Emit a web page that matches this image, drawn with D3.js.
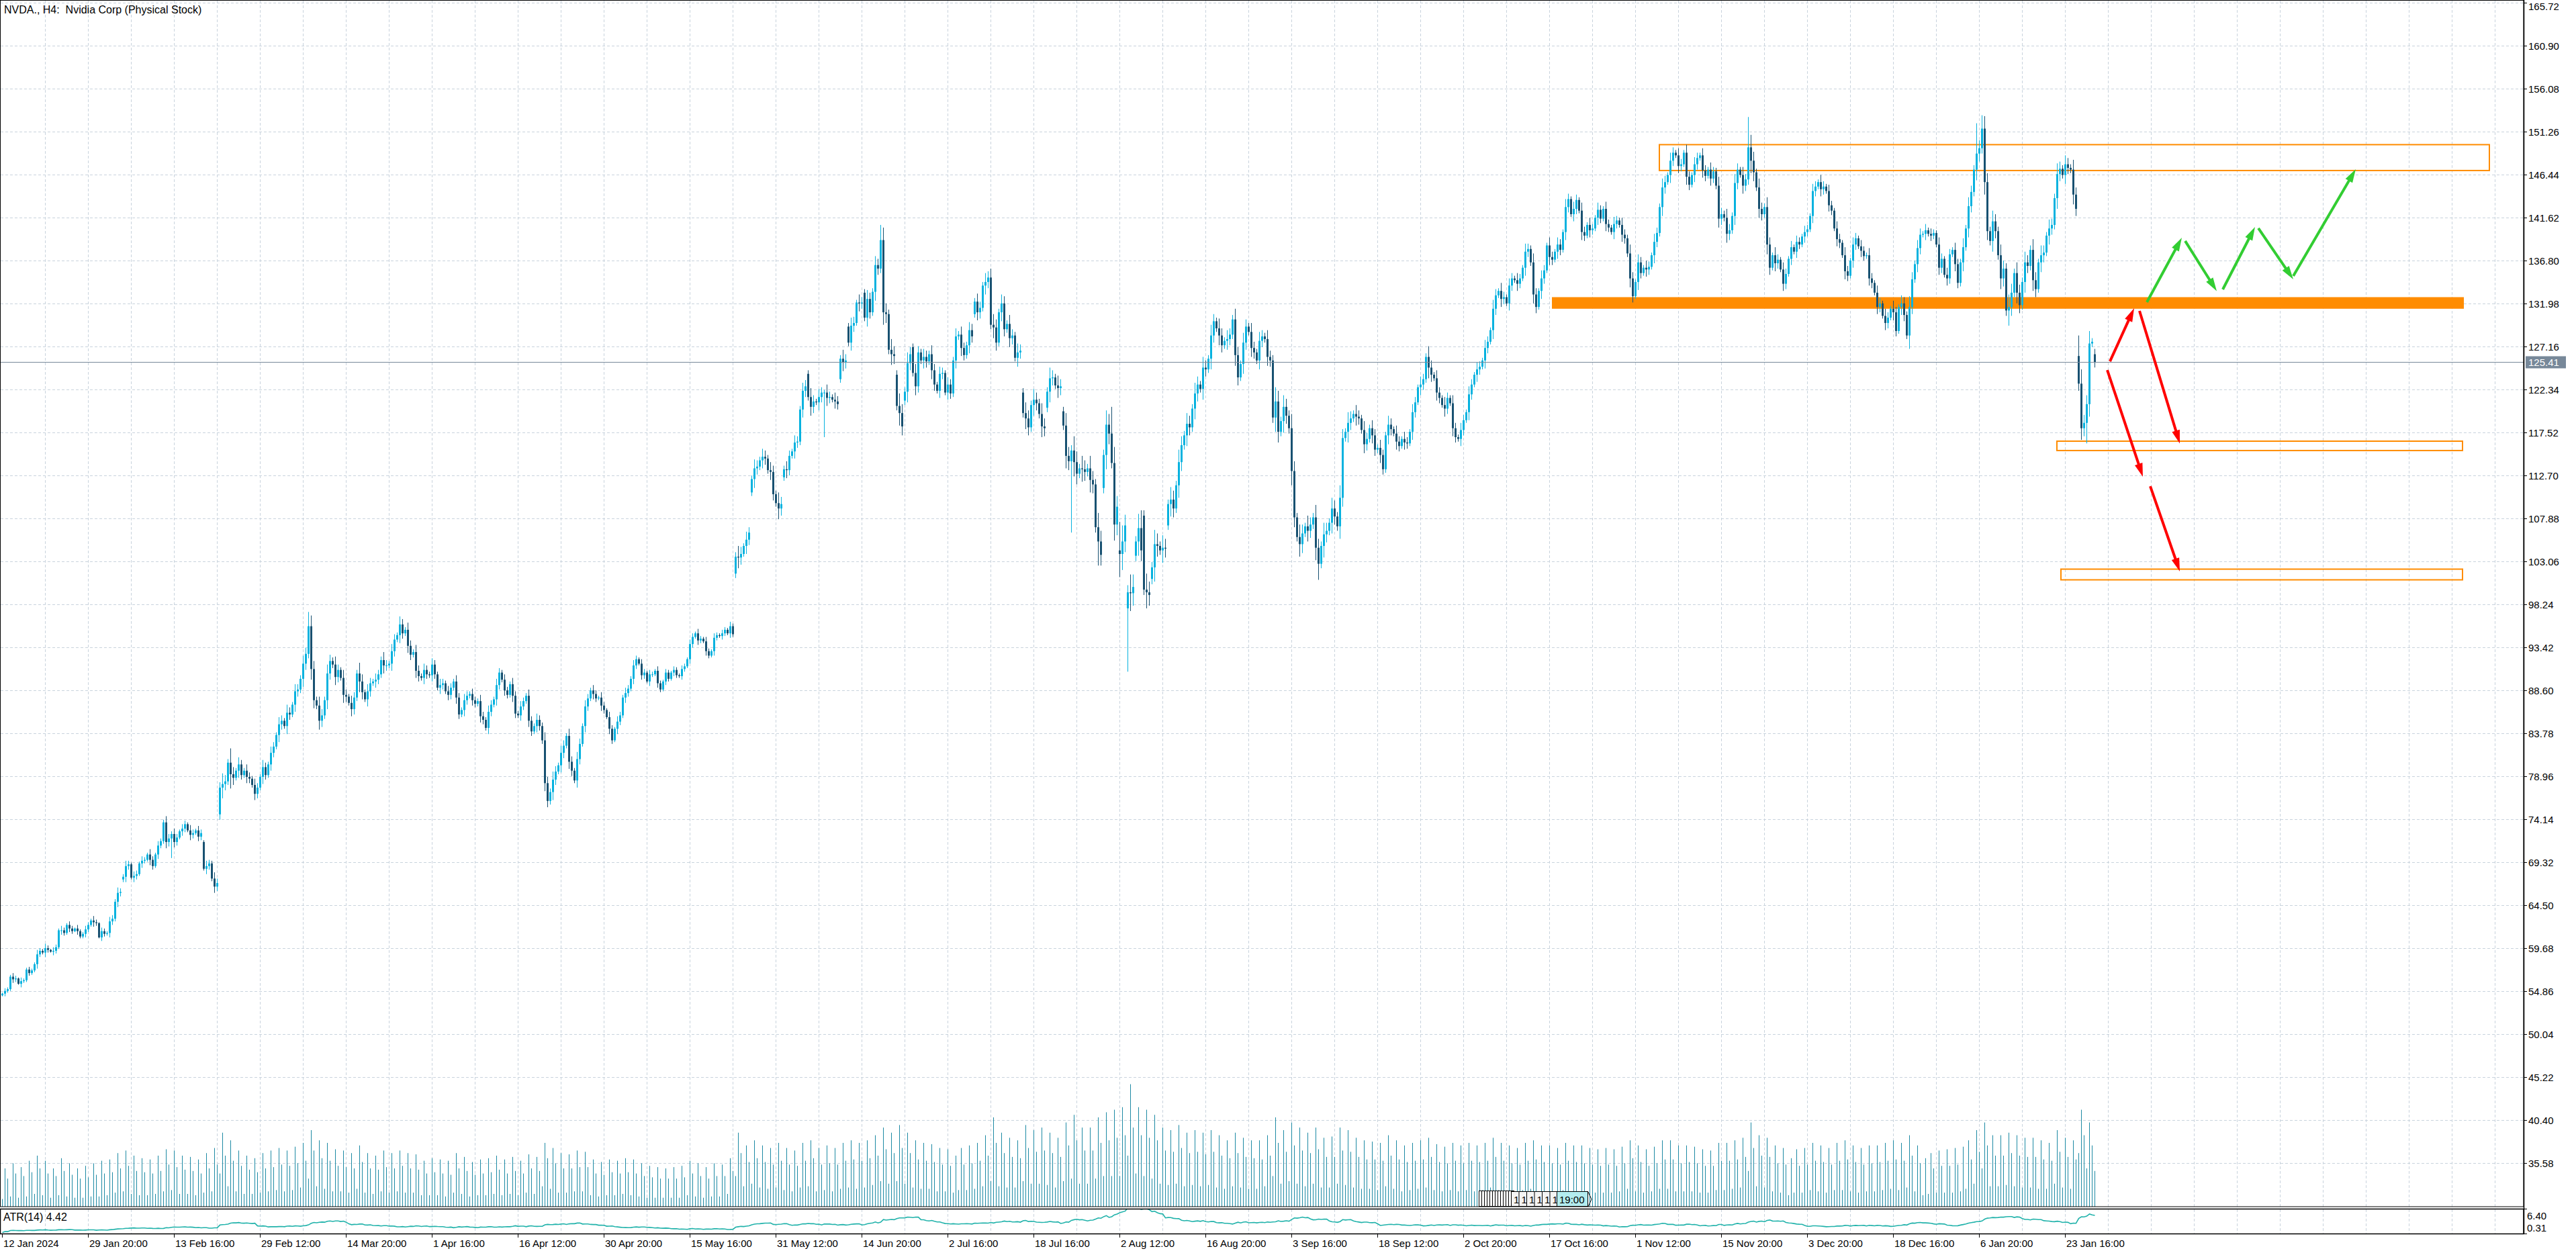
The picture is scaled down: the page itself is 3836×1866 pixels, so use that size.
<!DOCTYPE html>
<html>
  <head>
    <meta charset="utf-8">
    <style>
      body { margin: 0; background: #fff; }
      svg { display: block; }
      text { font-family: "Liberation Sans", Arial, sans-serif; fill: #000; }
    </style>
  </head>
  <body>
    <svg id="chart"></svg>
    <script src="https://d3js.org/d3.v7.min.js"></script>
    <script>
      var title = "NVDA., H4:  Nvidia Corp (Physical Stock)";
      var atrTitle = "ATR(14) 4.42";
      var lastPrice = 125.41;

      var priceTicks = [165.72, 160.90, 156.08, 151.26, 146.44, 141.62, 136.80, 131.98, 127.16, 122.34,
        117.52, 112.70, 107.88, 103.06, 98.24, 93.42, 88.60, 83.78, 78.96, 74.14, 69.32, 64.50,
        59.68, 54.86, 50.04, 45.22, 40.40, 35.58];
      var atrTicks = [6.40, 0.31];

      var timeLabels = ["12 Jan 2024", "29 Jan 20:00", "13 Feb 16:00", "29 Feb 12:00", "14 Mar 20:00",
        "1 Apr 16:00", "16 Apr 12:00", "30 Apr 20:00", "15 May 16:00", "31 May 12:00", "14 Jun 20:00",
        "2 Jul 16:00", "18 Jul 16:00", "2 Aug 12:00", "16 Aug 20:00", "3 Sep 16:00", "18 Sep 12:00",
        "2 Oct 20:00", "17 Oct 16:00", "1 Nov 12:00", "15 Nov 20:00", "3 Dec 20:00", "18 Dec 16:00",
        "6 Jan 20:00", "23 Jan 16:00"];

      // H4 closes, one line per week
      var closes = [
        54.6,54.9,55.1,
        56.5,56.2,56.3,55.7,56.0,56.1,57.3,56.9,57.2,57.9,59.0,59.4,
        59.2,59.7,59.5,59.3,59.4,59.8,61.7,61.7,61.4,62.3,61.9,61.6,61.9,61.6,61.0,
        61.3,61.8,62.3,62.8,62.6,62.5,60.9,61.6,61.3,61.4,62.7,63.0,64.9,65.9,66.0,
        67.7,68.9,69.1,67.6,67.8,68.0,69.2,69.5,69.6,70.2,69.6,68.9,70.2,71.2,71.7,
        73.8,71.6,72.0,72.5,71.6,72.1,72.8,73.1,73.6,72.9,72.4,72.6,72.9,72.2,72.6,
        68.6,68.9,69.2,67.5,66.6,67.0,77.7,78.1,78.4,80.5,79.2,78.8,
        79.6,80.3,79.1,79.6,78.9,78.7,78.0,77.0,77.7,78.9,80.0,79.1,80.3,81.6,82.3,
        83.6,84.8,85.2,84.6,86.1,85.9,87.0,88.5,88.7,89.9,91.6,92.7,95.8,91.0,87.5,
        86.9,85.2,85.8,87.5,90.5,91.9,91.5,90.1,90.9,90.0,88.1,87.9,87.2,86.5,87.8,
        90.5,89.6,88.4,87.6,88.5,89.4,89.6,89.8,90.4,92.0,91.4,91.4,91.6,93.0,94.3,
        94.8,96.0,95.0,95.4,93.6,92.6,92.9,90.8,90.2,90.0,90.9,90.4,
        90.3,91.5,90.4,88.9,89.2,89.4,88.5,88.1,88.9,89.6,87.8,85.9,86.4,87.5,88.0,
        88.2,87.5,87.1,87.4,85.7,85.3,84.4,86.2,87.0,87.6,89.2,90.6,89.8,88.6,88.1,
        89.3,88.0,86.0,85.8,86.8,87.4,88.0,85.2,84.0,84.6,85.3,84.6,83.0,78.2,76.2,
        77.2,78.6,79.5,80.2,81.6,82.4,83.5,80.6,79.6,78.5,80.9,82.6,84.6,86.8,87.7,
        88.6,88.2,87.7,87.8,86.9,86.4,85.6,84.3,83.0,84.3,85.1,85.8,87.8,88.3,88.8,
        89.9,91.4,92.1,91.6,90.3,90.6,89.6,90.4,90.4,90.8,89.4,88.7,89.6,90.6,89.9,
        90.6,90.9,90.3,90.2,91.0,91.3,92.1,93.8,94.6,95.0,94.2,94.4,94.1,93.0,92.5,
        93.0,94.5,94.8,94.7,95.0,95.4,95.0,95.8,94.9,103.6,103.5,103.9,104.8,105.5,106.3,
        112.3,113.5,113.7,114.4,114.8,114.6,113.3,113.1,110.6,109.6,109.0,109.5,
        113.4,113.3,114.9,115.4,116.4,116.5,120.1,122.2,122.7,121.5,120.4,121.0,120.9,121.5,122.0,
        122.0,121.4,121.5,121.2,121.0,120.7,125.8,125.4,125.6,127.6,129.5,129.8,132.1,132.0,132.1,
        130.4,132.5,131.0,133.3,136.3,135.9,139.1,131.0,130.8,126.8,126.3,126.1,
        120.5,119.7,118.2,122.1,125.3,126.3,124.2,122.7,126.5,125.6,126.0,125.5,126.3,124.5,122.9,
        122.2,124.1,124.2,122.0,122.9,121.9,125.6,128.3,128.5,127.0,126.2,
        127.3,129.0,128.3,132.2,131.0,131.5,134.0,134.4,134.9,129.6,129.3,127.6,131.0,132.0,129.1,
        129.7,128.1,128.4,125.9,126.5,126.7,119.7,119.1,118.1,120.6,121.2,120.8,119.6,118.2,118.0,
        122.1,123.6,123.7,122.8,122.5,122.7,118.3,114.9,114.3,115.5,114.2,112.9,113.5,113.4,113.1,
        113.5,112.2,111.7,106.9,105.3,103.8,115.0,118.4,117.4,114.1,107.2,109.2,103.9,105.3,107.1,
        99.6,99.5,100.2,105.3,106.8,104.3,99.9,99.6,99.3,102.4,105.0,104.8,104.3,104.6,104.5,
        109.5,110.0,109.0,111.6,114.2,116.1,117.2,118.5,118.1,120.2,121.9,122.9,122.4,124.8,124.6,
        125.8,128.4,130.0,129.2,128.4,127.3,127.8,128.0,128.5,130.2,126.2,123.7,125.2,127.6,129.4,
        128.8,127.0,126.5,125.6,127.8,128.3,128.0,126.0,125.6,119.2,121.0,117.6,118.8,120.4,119.4,
        118.0,113.2,108.0,105.8,105.0,106.2,107.0,106.5,107.2,108.0,104.6,102.8,
        104.8,106.1,106.5,107.4,109.0,108.1,107.0,110.2,116.9,117.6,118.6,119.1,119.6,119.3,119.1,
        117.8,116.2,116.8,118.0,117.2,115.6,115.8,115.0,113.4,117.2,118.4,117.9,117.4,116.5,116.0,
        116.8,116.4,116.3,117.6,119.8,120.9,122.6,122.9,123.5,126.0,124.8,124.0,123.6,122.0,121.4,
        120.6,120.2,121.4,120.8,118.0,117.0,116.8,117.8,118.9,119.8,121.8,122.9,124.0,124.6,124.9,
        125.6,127.0,127.7,129.0,131.4,132.9,133.4,132.5,132.7,132.0,134.0,134.8,134.6,134.2,134.8,
        136.0,137.8,138.1,136.6,133.0,131.6,133.4,134.8,135.7,138.5,137.2,136.9,137.8,138.6,138.0,
        140.0,142.8,143.7,142.0,142.6,143.6,142.4,140.0,139.6,140.8,140.2,140.4,141.6,142.5,141.5,
        142.6,140.9,140.5,140.0,140.9,141.3,140.8,139.7,139.3,137.6,134.8,132.8,134.4,136.6,135.4,
        136.0,135.8,136.1,137.4,138.9,139.9,142.8,145.0,145.6,146.4,148.0,148.9,148.6,147.4,147.6,
        148.9,146.2,145.3,146.4,147.6,148.3,148.6,146.9,146.3,147.0,146.0,146.8,145.2,141.5,142.0,
        141.6,139.8,140.2,141.8,145.5,147.0,146.4,145.2,145.9,149.5,148.0,146.7,145.0,142.6,142.0,
        142.8,138.6,136.0,137.4,136.5,136.9,135.8,134.2,135.3,137.0,138.3,
        137.8,138.9,138.6,139.5,140.0,140.3,141.8,144.6,145.1,145.6,144.8,145.1,144.6,143.0,142.4,
        140.4,139.2,138.8,137.4,135.6,135.1,136.8,138.6,139.3,138.4,137.9,137.3,137.4,134.8,134.3,
        133.2,131.6,132.0,130.6,129.8,130.4,131.4,131.0,128.9,131.6,132.0,130.7,128.4,131.6,134.7,
        136.4,138.2,139.7,139.8,140.2,139.8,139.6,139.9,138.6,136.0,137.0,
        135.2,134.8,137.5,138.0,136.4,134.3,136.6,138.3,140.4,142.9,144.5,
        147.0,148.8,149.4,151.6,145.6,140.1,139.0,141.2,140.1,137.4,134.8,135.9,
        131.2,131.6,133.2,135.4,133.2,131.8,134.4,136.6,136.2,138.0,134.6,133.6,136.6,137.4,137.7,
        139.6,140.4,140.8,143.8,146.5,147.1,146.4,147.6,147.2,147.0,144.2,142.6,
        123.0,118.0,118.6,120.7,127.5,127.7,125.41
      ];

      // wick beyond the body, in tenths of a dollar
      var wicks = [
        1,3,2,
        2,4,3,1,4,2,2,3,2,2,5,3,
        2,5,3,1,4,3,2,5,3,2,4,3,1,4,2,
        2,4,3,2,5,3,1,4,3,2,5,4,3,6,4,
        3,6,4,2,5,4,2,5,3,2,6,4,2,5,3,
        3,7,5,3,6,4,2,5,4,2,6,4,2,5,4,
        2,6,4,3,7,5,6,12,7,4,16,8,
        3,8,5,3,7,5,3,7,5,3,8,5,3,7,5,
        3,8,6,3,9,6,3,8,6,4,9,7,5,12,9,
        4,10,7,4,10,7,4,9,6,3,9,6,3,8,6,
        4,12,8,3,8,6,3,7,5,4,9,6,3,8,6,
        3,9,6,3,8,6,3,8,6,3,7,5,
        3,7,5,3,7,5,3,6,5,3,7,5,3,7,5,
        3,6,4,3,7,5,3,7,5,3,7,5,3,6,4,
        3,7,5,3,6,4,3,7,5,3,7,5,4,9,7,
        4,9,6,3,8,6,3,8,6,3,8,6,3,7,5,
        3,6,4,2,6,4,2,6,4,2,6,4,3,6,4,
        3,6,4,2,5,4,2,5,3,2,5,3,2,4,3,
        2,4,3,2,4,3,2,5,4,2,5,3,2,5,3,
        2,5,3,2,4,3,2,5,3,5,12,8,3,9,6,
        4,10,7,4,9,7,4,9,7,4,12,8,
        4,9,6,3,8,6,4,9,7,4,10,7,3,9,6,
        3,9,6,3,8,6,4,10,7,4,9,7,3,9,6,
        4,10,7,4,10,7,5,14,10,5,12,9,
        5,14,10,5,12,8,4,10,7,4,9,7,4,10,7,
        3,8,6,3,8,6,4,9,4,9,6,
        4,9,7,4,9,7,4,10,7,5,12,9,4,10,8,
        4,10,7,4,10,7,5,12,9,5,12,8,5,12,9,
        5,12,8,4,11,8,5,14,10,6,16,12,5,14,10,
        5,14,10,6,16,12,6,16,12,6,18,12,6,18,12,
        8,20,14,6,16,12,6,18,12,6,16,12,5,14,10,
        5,14,10,5,14,10,5,12,9,5,12,9,4,12,8,
        4,12,8,4,11,8,4,10,7,5,12,9,4,11,8,
        4,10,7,4,10,7,4,10,7,6,16,12,5,13,9,
        6,16,11,5,14,10,4,12,8,5,14,10,
        5,13,9,5,12,9,5,14,10,4,12,8,4,10,7,
        4,10,7,4,9,7,4,9,6,4,10,7,3,9,6,
        3,8,6,3,9,6,3,9,6,4,12,8,3,9,6,
        3,9,6,3,9,6,3,8,6,3,9,6,3,8,6,
        3,9,6,3,10,7,3,9,6,3,8,6,3,8,5,
        3,9,6,4,10,7,3,9,6,3,9,6,3,8,6,
        3,9,6,3,8,6,3,9,6,3,8,5,3,8,5,
        3,8,5,3,8,5,3,8,6,4,10,7,3,9,6,
        3,8,6,3,9,6,4,10,7,3,9,6,3,8,6,
        3,9,6,3,8,6,3,8,6,3,8,5,4,10,7,
        4,10,7,4,10,7,3,9,6,6,14,10,4,10,7,
        4,11,8,3,9,6,3,8,6,3,7,
        3,7,5,3,7,5,3,8,6,3,8,6,3,7,5,
        3,8,6,3,9,6,3,8,6,3,7,5,3,8,6,
        3,8,6,3,8,6,3,9,6,3,9,7,4,12,8,
        4,9,7,3,7,3,6,4,3,8,6,
        3,8,6,3,8,6,4,10,4,10,7,
        5,12,9,6,14,10,5,12,8,5,12,9,
        6,14,10,5,12,9,5,12,8,5,12,9,4,11,8,
        4,10,7,5,12,8,4,10,7,4,11,8,
        8,16,9,10,14,4,6
      ];

      var volumes = [
        6,30,22,
        8,34,26,7,31,24,8,36,27,10,40,30,
        9,36,26,7,30,24,9,38,28,8,34,25,7,30,22,
        7,32,23,8,34,25,8,36,26,9,37,27,11,42,30,
        12,44,32,10,40,28,9,38,27,9,37,26,10,40,28,
        12,45,33,13,44,31,10,40,29,10,39,28,9,37,26,
        11,42,30,12,46,33,26,58,40,16,52,36,
        12,44,32,10,40,29,10,38,27,11,42,30,12,44,31,
        13,46,33,12,44,32,13,47,34,15,50,36,22,60,44,
        16,52,38,14,50,36,12,45,32,12,44,31,11,42,30,
        14,48,35,11,42,30,10,40,29,12,44,31,11,42,30,
        12,44,32,11,42,30,11,41,29,9,36,26,
        9,38,27,9,37,26,8,36,25,11,42,30,10,39,28,
        8,35,25,9,37,26,9,38,27,10,40,29,9,37,26,
        10,39,28,9,36,26,11,41,30,10,39,28,16,50,38,
        14,46,34,11,42,30,11,41,30,12,44,31,12,43,31,
        9,37,26,8,35,25,9,37,27,9,36,26,10,38,27,
        9,37,26,8,34,24,7,32,23,7,31,22,7,30,22,
        7,31,22,7,32,23,9,36,26,8,34,24,7,31,22,
        8,34,24,8,33,24,10,38,28,24,58,42,16,48,35,
        18,52,38,15,48,35,14,46,33,15,50,36,
        13,46,33,12,44,32,15,50,36,16,52,38,12,46,33,
        13,48,34,12,46,33,14,50,36,15,52,37,14,50,36,
        15,52,38,17,56,40,20,62,45,18,58,42,
        20,64,46,18,58,42,15,52,37,14,50,36,14,49,35,
        12,46,33,12,45,32,11,40,13,46,33,
        13,48,34,14,50,36,16,56,40,20,70,50,16,58,42,
        15,54,39,15,52,38,20,64,46,18,60,43,18,62,44,
        17,58,42,15,54,39,20,66,48,22,72,52,18,62,44,
        18,62,44,22,70,50,24,74,52,24,76,54,24,78,56,
        40,96,62,26,78,56,24,76,54,22,72,52,18,62,44,
        17,60,43,18,64,46,16,58,42,17,60,43,16,58,41,
        17,60,43,15,56,40,14,52,38,16,58,42,15,54,39,
        14,52,38,14,52,37,16,56,40,24,70,50,18,60,43,
        20,66,48,18,62,44,16,58,42,18,62,45,
        15,54,39,15,55,39,18,62,44,17,60,43,15,54,39,
        14,52,37,14,51,37,13,50,36,16,56,40,14,52,37,
        12,48,35,13,50,36,14,52,37,15,54,39,13,49,35,
        12,47,34,13,50,36,12,48,34,13,50,36,12,48,35,
        13,50,36,15,54,39,13,50,36,12,48,34,11,46,33,
        13,50,36,14,52,37,12,48,35,12,48,34,11,46,33,
        13,50,36,12,48,35,12,48,34,11,46,33,11,45,32,
        11,46,33,11,45,32,12,47,34,14,52,38,12,48,35,
        11,45,32,12,47,34,14,52,37,14,52,37,12,48,34,
        12,48,35,12,47,34,11,45,32,11,44,32,13,50,36,
        13,50,36,14,52,37,15,54,39,28,66,46,16,56,40,
        15,54,39,12,48,34,11,46,33,9,38,
        11,45,32,11,46,33,13,50,36,12,48,35,11,46,33,
        13,50,36,13,52,37,12,48,35,11,46,33,12,48,34,
        12,48,35,13,50,36,14,52,37,13,50,36,15,56,40,
        12,48,34,9,38,10,42,30,11,44,32,
        11,45,32,11,46,33,12,47,14,52,37,
        18,60,43,30,66,48,16,56,40,16,56,40,
        17,58,42,16,56,40,15,54,39,15,54,39,14,52,37,
        14,50,36,18,60,43,15,54,39,14,52,37,
        42,76,56,30,66,48,28
      ];

      // [bar, open] where the session opened away from the previous close
      var gapOpens = [[0, 54.4], [45, 67.4], [75, 71.6], [81, 74.7], [273, 101.7], [279, 110.8],
        [291, 112.5], [300, 124.1], [312, 123.5], [315, 129.4], [321, 133.2], [333, 124.0],
        [336, 121.1], [339, 127.1], [362, 130.8], [380, 122.0], [389, 120.3], [395, 119.9],
        [410, 111.3], [416, 104.3], [419, 97.8], [422, 103.7], [425, 108.2], [428, 101.1],
        [434, 107.1], [773, 126.1], [779, 126.3]];
      // [bar, high, low] spikes
      var extremes = [[63, null, 69.8], [114, 97.4, null], [306, null, 117.0], [327, 140.8, null],
        [368, 135.9, null], [398, null, 106.3], [408, null, 102.6], [413, 120.4, null],
        [416, 107.5, 101.3], [419, null, 90.7], [424, 108.8, null], [490, null, 101.0],
        [650, 152.9, null], [710, null, 126.9], [735, 152.2, null], [737, 153.1, null],
        [747, null, 129.5], [773, 128.4, null], [774, null, 116.7], [776, null, 116.3]];

      // drawn objects: [fromBar, toBar, lowPrice, highPrice]
      var boxes = [[617, 926, 146.9, 149.8], [765, 916, 115.5, 116.55], [766.5, 916, 101.0, 102.2]];
      var band = [577, 916.5, 131.4, 132.7];
      // [bar1, price1, bar2, price2]
      var redArrows = [[784.75, 125.5, 793.75, 131.46], [795.75, 131.16, 810.75, 116.28],
        [783.75, 124.53, 797, 112.56], [799.75, 111.5, 810.75, 101.94]];
      var greenArrows = [[798.5, 132.14, 811.5, 139.37], [812.75, 139.0, 824.5, 133.38],
        [826.75, 133.57, 838.75, 140.57], [840, 140.42, 853, 134.7], [853, 135.08, 876.25, 147.05]];
      var cursorBar = 550, cursorLabel = "19:00";

      var width = 3836, height = 1866,
        axisX = 3758, paneBottom = 1797, atrTop = 1800, atrBottom = 1837;

      var bullColor = "#06b2df", bearColor = "#185171", gridColor = "#c9d3dd";

      var svg = d3.select("#chart").attr("width", width).attr("height", height);
      svg.append("rect").attr("width", width).attr("height", height).attr("fill", "#fff");

      var x = d3.scaleLinear().domain([0, 938.75]).range([3, axisX]);
      var y = d3.scaleLinear().domain([35.58, 165.72]).range([1732.3, 4]);
      var yVol = d3.scaleLinear().domain([0, 100]).range([paneBottom, paneBottom - 190]);
      var yAtr = d3.scaleLinear().domain([0.31, 6.40]).range([atrBottom - 1, atrTop + 1]);

      // build bars
      var gapMap = new Map(gapOpens.map(function (g) { return [g[0], g[1]]; }));
      var extMap = new Map(extremes.map(function (e) { return [e[0], e]; }));
      var bars = closes.map(function (c, i) {
        var o = gapMap.has(i) ? gapMap.get(i) : closes[i - 1];
        var w = wicks[i] / 10;
        var h = Math.max(o, c) + w, l = Math.min(o, c) - w;
        var e = extMap.get(i);
        if (e) {
          if (e[1] != null) h = e[1];
          if (e[2] != null) l = e[2];
        }
        return { i: i, o: o, h: h, l: l, c: c, v: volumes[i] || 0 };
      });

      var tr = bars.map(function (b, i) {
        if (i === 0) return b.h - b.l;
        var pc = bars[i - 1].c;
        return Math.max(b.h - b.l, Math.abs(b.h - pc), Math.abs(b.l - pc));
      });
      var atr = tr.map(function (t, i) {
        return d3.mean(tr.slice(Math.max(0, i - 13), i + 1));
      });

      var defs = svg.append("defs");
      defs.append("clipPath").attr("id", "pane").append("rect")
        .attr("x", 1).attr("y", 1).attr("width", axisX - 1).attr("height", paneBottom - 1);
      defs.append("clipPath").attr("id", "atrpane").append("rect")
        .attr("x", 1).attr("y", atrTop + 1).attr("width", axisX - 1).attr("height", atrBottom - atrTop - 1);

      // grid
      var grid = svg.append("g").attr("stroke", gridColor).attr("stroke-dasharray", "4,3").attr("stroke-width", 1);
      grid.selectAll(".hg").data(priceTicks).enter().append("line")
        .attr("x1", 1).attr("x2", axisX)
        .attr("y1", function (d) { return Math.round(y(d)) + 0.5; })
        .attr("y2", function (d) { return Math.round(y(d)) + 0.5; });
      var vgrid = d3.range(16, 940, 16).filter(function (b) { return x(b) < axisX - 2; });
      grid.selectAll(".vg").data(vgrid).enter().append("line")
        .attr("x1", function (b) { return x(b) + 0.5; }).attr("x2", function (b) { return x(b) + 0.5; })
        .attr("y1", 1).attr("y2", paneBottom);
      grid.selectAll(".vga").data(vgrid).enter().append("line")
        .attr("x1", function (b) { return x(b) + 0.5; }).attr("x2", function (b) { return x(b) + 0.5; })
        .attr("y1", atrTop + 1).attr("y2", atrBottom);

      var main = svg.append("g").attr("clip-path", "url(#pane)");

      // zones behind the candles
      main.append("rect")
        .attr("x", x(band[0])).attr("width", x(band[1]) - x(band[0]))
        .attr("y", y(band[3])).attr("height", y(band[2]) - y(band[3]))
        .attr("fill", "#ff8c00");
      main.selectAll(".box").data(boxes).enter().append("rect")
        .attr("x", function (d) { return x(d[0]); })
        .attr("width", function (d) { return x(d[1]) - x(d[0]); })
        .attr("y", function (d) { return y(d[3]); })
        .attr("height", function (d) { return y(d[2]) - y(d[3]); })
        .attr("fill", "none").attr("stroke", "#ff8c00").attr("stroke-width", 2);

      // volumes
      main.selectAll(".vol").data(bars).enter().append("rect")
        .attr("x", function (d) { return x(d.i); })
        .attr("width", 1)
        .attr("y", function (d) { return yVol(d.v); })
        .attr("height", function (d) { return paneBottom - yVol(d.v); })
        .attr("fill", "#1d8aa4");

      // candles
      var candle = main.selectAll(".candle").data(bars).enter().append("g");
      candle.append("line")
        .attr("x1", function (d) { return x(d.i) + 0.5; })
        .attr("x2", function (d) { return x(d.i) + 0.5; })
        .attr("y1", function (d) { return y(d.h); })
        .attr("y2", function (d) { return y(d.l); })
        .attr("stroke", function (d) { return d.c >= d.o ? bullColor : bearColor; })
        .attr("stroke-width", 1);
      candle.append("rect")
        .attr("x", function (d) { return x(d.i) - 1; })
        .attr("width", 3)
        .attr("y", function (d) { return y(Math.max(d.o, d.c)); })
        .attr("height", function (d) { return Math.max(1, Math.abs(y(d.o) - y(d.c))); })
        .attr("fill", function (d) { return d.c >= d.o ? bullColor : bearColor; });

      // current price line
      var yLast = Math.round(y(lastPrice)) + 0.5;
      svg.append("line").attr("x1", 1).attr("x2", axisX).attr("y1", yLast).attr("y2", yLast)
        .attr("stroke", "#778899").attr("stroke-width", 1);

      // arrows
      function drawArrow(g, d, color) {
        var x1 = x(d[0]), y1 = y(d[1]), x2 = x(d[2]), y2 = y(d[3]);
        var len = Math.hypot(x2 - x1, y2 - y1), ux = (x2 - x1) / len, uy = (y2 - y1) / len;
        var bx = x2 - 20 * ux, by = y2 - 20 * uy, nx = -uy, ny = ux;
        g.append("line").attr("x1", x1).attr("y1", y1).attr("x2", bx + 2 * ux).attr("y2", by + 2 * uy)
          .attr("stroke", color).attr("stroke-width", 4);
        g.append("path")
          .attr("d", "M" + x2 + "," + y2 + "L" + (bx + 6 * nx) + "," + (by + 6 * ny) + "L" + (bx - 6 * nx) + "," + (by - 6 * ny) + "Z")
          .attr("fill", color);
      }
      var arrows = svg.append("g");
      redArrows.forEach(function (d) { drawArrow(arrows, d, "#ff0000"); });
      greenArrows.forEach(function (d) { drawArrow(arrows, d, "#32cd32"); });

      // time cursor widget at the bottom of the main pane
      var cw = svg.append("g");
      var cx0 = Math.round(x(cursorBar)) - 1;
      d3.range(12).forEach(function (k) {
        cw.append("rect").attr("x", cx0 + 4 * k + 0.5).attr("y", paneBottom - 23.5)
          .attr("width", 8).attr("height", 23).attr("fill", "#fff").attr("stroke", "#000");
      });
      d3.range(6).forEach(function (k) {
        var bx = cx0 + 48 + 11.5 * k;
        cw.append("rect").attr("x", bx + 0.5).attr("y", paneBottom - 22.5)
          .attr("width", 14).attr("height", 22).attr("fill", "#f4f4f4").attr("stroke", "#000");
        cw.append("text").attr("x", bx + 4).attr("y", paneBottom - 5).style("font-size", "15px").text("1");
      });
      cw.append("rect").attr("x", cx0 + 116.5).attr("y", paneBottom - 22.5)
        .attr("width", 46).attr("height", 22).attr("fill", "#b3ecef").attr("stroke", "#000");
      cw.append("text").attr("x", cx0 + 120).attr("y", paneBottom - 5).style("font-size", "15px").text(cursorLabel);
      cw.append("path").attr("d", "M" + (cx0 + 163) + "," + (paneBottom - 22) + "L" + (cx0 + 168) + "," + (paneBottom - 11) + "L" + (cx0 + 163) + "," + paneBottom)
        .attr("fill", "none").attr("stroke", "#000");

      // ATR line
      svg.append("path").datum(atr)
        .attr("clip-path", "url(#atrpane)")
        .attr("d", d3.line().x(function (d, i) { return x(i) + 0.5; }).y(function (d) { return yAtr(d); }))
        .attr("fill", "none").attr("stroke", "#20b2aa").attr("stroke-width", 1.6);

      // frames
      svg.append("rect").attr("x", 0.5).attr("y", 0.5).attr("width", axisX - 0.5).attr("height", paneBottom - 0.5)
        .attr("fill", "none").attr("stroke", "#000").attr("stroke-width", 1);
      svg.append("rect").attr("x", 0.5).attr("y", atrTop + 0.5).attr("width", axisX - 0.5).attr("height", atrBottom - atrTop)
        .attr("fill", "none").attr("stroke", "#000").attr("stroke-width", 1.5);

      // price axis
      var ax = svg.append("g");
      ax.selectAll(".pt").data(priceTicks).enter().append("line")
        .attr("x1", axisX).attr("x2", axisX + 5)
        .attr("y1", function (d) { return Math.round(y(d)) + 0.5; })
        .attr("y2", function (d) { return Math.round(y(d)) + 0.5; })
        .attr("stroke", "#000");
      ax.selectAll(".pl").data(priceTicks).enter().append("text")
        .attr("x", axisX + 7).attr("y", function (d) { return Math.max(9, y(d)); })
        .attr("dominant-baseline", "central").style("font-size", "15px")
        .text(function (d) { return d3.format(".2f")(d); });

      svg.append("rect").attr("x", axisX + 3).attr("y", yLast - 9).attr("width", 60).attr("height", 18)
        .attr("fill", "#778899");
      svg.append("text").attr("x", axisX + 7).attr("y", yLast).attr("dominant-baseline", "central")
        .style("font-size", "15px").style("fill", "#fff").text(d3.format(".2f")(lastPrice));

      ax.selectAll(".at").data([atrTop, atrBottom]).enter().append("line")
        .attr("x1", axisX).attr("x2", axisX + 5)
        .attr("y1", function (d) { return d + 0.5; }).attr("y2", function (d) { return d + 0.5; })
        .attr("stroke", "#000");
      ax.selectAll(".al").data(atrTicks).enter().append("text")
        .attr("x", axisX + 5)
        .attr("y", function (d, i) { return i === 0 ? atrTop + 10 : atrBottom - 9; })
        .attr("dominant-baseline", "central").style("font-size", "15px")
        .text(function (d) { return d3.format(".2f")(d); });

      // time axis
      var tx = svg.append("g");
      tx.selectAll(".tt").data(timeLabels).enter().append("line")
        .attr("x1", function (d, i) { return x(i * 32) + 0.5; })
        .attr("x2", function (d, i) { return x(i * 32) + 0.5; })
        .attr("y1", atrBottom).attr("y2", atrBottom + 6)
        .attr("stroke", "#000");
      tx.selectAll(".tl").data(timeLabels).enter().append("text")
        .attr("x", function (d, i) { return x(i * 32) + 2; })
        .attr("y", 1857).style("font-size", "15px")
        .text(function (d) { return d; });

      svg.append("line").attr("x1", axisX + 0.5).attr("x2", axisX + 0.5).attr("y1", 0).attr("y2", atrBottom + 1)
        .attr("stroke", "#000").attr("stroke-width", 1.5);

      // titles
      svg.append("text").attr("x", 6).attr("y", 20).style("font-size", "16px")
        .style("white-space", "pre").attr("xml:space", "preserve").text(title);
      svg.append("text").attr("x", 5).attr("y", atrTop + 18).style("font-size", "16px").text(atrTitle);
    </script>
  </body>
</html>
